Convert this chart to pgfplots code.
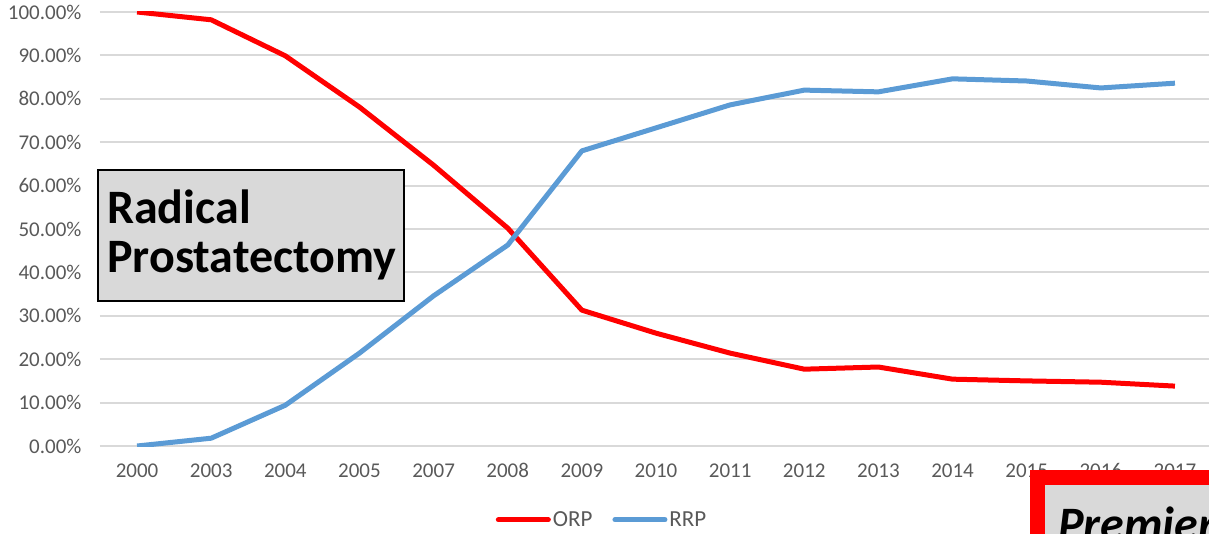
\documentclass[border=0pt]{standalone}
\usepackage{pgfplots}
\pgfplotsset{compat=1.18}
\usepackage{fontspec}
\setmainfont{Carlito}
\definecolor{orp}{HTML}{FF0000}
\definecolor{rrp}{HTML}{5B9BD5}
\definecolor{tickc}{HTML}{595959}
\definecolor{gridc}{HTML}{D9D9D9}
\begin{document}
\begin{tikzpicture}[x=1pt,y=1pt]
\path[use as bounding box] (0,0) rectangle (1209,-534);
\begin{axis}[
  at={(100pt,-446pt)}, anchor=south west,
  scale only axis, width=1112pt, height=434pt,
  xmin=-0.5, xmax=14.5, ymin=0, ymax=100,
  axis line style={draw=none},
  tick style={draw=none},
  ymajorgrids, grid style={gridc, line width=2pt},
  xtick={0,...,14},
  xticklabels={2000,2003,2004,2005,2007,2008,2009,2010,2011,2012,2013,2014,2015,2016,2017},
  ytick={0,10,...,100},
  yticklabels={0.00\%,10.00\%,20.00\%,30.00\%,40.00\%,50.00\%,60.00\%,70.00\%,80.00\%,90.00\%,100.00\%},
  ticklabel style={font=\fontsize{21}{24}\selectfont, text=tickc},
  yticklabel style={xshift=-15pt},
  xticklabel style={yshift=-14pt},
  legend style={at={(0.4515,-0.17)}, anchor=center, legend columns=2, draw=none, fill=none,
    font=\fontsize{23}{26}\selectfont, text=tickc, /tikz/every even column/.append style={column sep=18pt}},
  legend image code/.code={\draw[#1, line cap=round] (0pt,0pt) -- (50pt,0pt);},
]
\addplot[orp, line width=5pt, line join=round] coordinates {
(0,100) (1,98.2) (2,89.9) (3,78.1) (4,64.7) (5,50.2) (6,31.3) (7,26.0) (8,21.4) (9,17.7) (10,18.2) (11,15.4) (12,15.0) (13,14.7) (14,13.8)};
\addlegendentry{ORP}
\addplot[rrp, line width=5pt, line join=round] coordinates {
(0,0) (1,1.8) (2,9.4) (3,21.4) (4,34.6) (5,46.3) (6,68.0) (7,73.3) (8,78.6) (9,82.0) (10,81.6) (11,84.6) (12,84.1) (13,82.5) (14,83.6)};
\addlegendentry{RRP}
\end{axis}
\filldraw[fill=gridc, draw=black, line width=2pt] (98,-170) rectangle (404,-301);
\node[anchor=base west, inner sep=0pt, font=\fontsize{48}{49}\selectfont\bfseries] at (107,-224) {Radical};
\node[anchor=base west, inner sep=0pt, font=\fontsize{48}{49}\selectfont\bfseries] at (107,-273) {Prostatectomy};
\begin{scope}
\clip (0,0) rectangle (1209,-534);
\filldraw[fill=gridc, draw=orp, line width=15pt] (1037.5,-477.5) rectangle (1260,-600);
\node[anchor=base west, inner sep=0pt, font=\fontsize{48}{49}\selectfont\bfseries\itshape] at (1058,-540) {Premier};
\end{scope}
\end{tikzpicture}
\end{document}
